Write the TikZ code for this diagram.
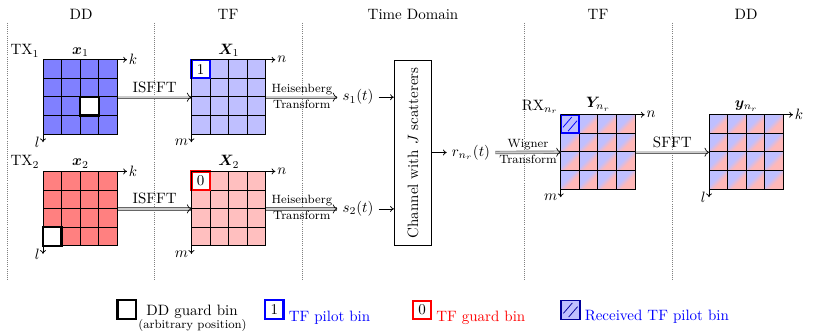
\documentclass[tikz,border=0pt]{standalone}
\usepackage{amsmath}
\usepackage{bm}
\usetikzlibrary{arrows.meta,positioning}

\pgfdeclareverticalshading{rxdiag}{100bp}{color(0bp)=(red!28); color(43bp)=(red!28);
  color(57bp)=(blue!25); color(100bp)=(blue!25)}
\def\cs{18.6}
\tikzset{
  bin/.style={draw=black, line width=0.6pt},
  binnode/.style={minimum size=12.4pt, inner sep=0pt, line width=1.5pt},
  ddguard/.style={binnode, draw=black, fill=white},
  tfpilot/.style={binnode, draw=blue, fill=white},
  tfguard/.style={binnode, draw=red, fill=white},
  rxpilot/.style={binnode, fill=blue!25,
    path picture={
      \draw[line width=0.5pt] ([xshift=1.5pt,yshift=4pt]path picture bounding box.south west)
        -- ([xshift=-5pt,yshift=-1.5pt]path picture bounding box.north east);
      \draw[line width=0.5pt] ([xshift=5pt,yshift=1.5pt]path picture bounding box.south west)
        -- ([xshift=-1.5pt,yshift=-4pt]path picture bounding box.north east);
    }},
  rxshade/.style={shading=rxdiag, shading angle=45},
  gridframe/.style={inner sep=0pt, minimum size=49.6pt},
  axis/.style={-{To[length=2.5pt,width=4pt]}, line width=0.5pt},
  xform/.style={draw=gray!80!black, double=gray!40, double distance=1.3pt,
    line width=0.45pt, -{To[length=3pt,width=6pt,black]}},
  sep/.style={gray, densely dotted, line width=0.4pt},
  small/.style={font=\footnotesize, inner sep=1.5pt},
}

\begin{document}
\begin{tikzpicture}[x=0.667pt, y=-0.667pt]
  \useasboundingbox (0,0) rectangle (817,333);
  % domain headers
  \node (hdd1) at (81,14) {DD};
  \node (htf1) at (228,14) {TF};
  \node (htd) at (413,14) {Time Domain};
  \node (htf2) at (598,14) {TF};
  \node (hdd2) at (746,14) {DD};
  \foreach \x in {7,154,302,524,672}
    \draw[sep] (\x,23) -- (\x,280);

  % grid frames
  \node[gridframe] (dd1) at (80.5,97.2) {};
  \node[gridframe] (dd2) at (80.5,208.9) {};
  \node[gridframe] (tf1) at (228.9,97.2) {};
  \node[gridframe] (tf2) at (228.9,208.9) {};
  \node[gridframe] (rx) at (598.2,152.2) {};
  \node[gridframe] (yy) at (746.5,152.2) {};

  % TX1, DD
  \begin{scope}[shift={(dd1.north west)}]
    \foreach \i in {0,...,3} \foreach \j in {0,...,3}
      \draw[bin, fill=blue!50] (\i*\cs,\j*\cs) rectangle ++(\cs,\cs);
    \node[ddguard] (dd1g) at (2.5*\cs,2.5*\cs) {};
  \end{scope}
  % TX2, DD
  \begin{scope}[shift={(dd2.north west)}]
    \foreach \i in {0,...,3} \foreach \j in {0,...,3}
      \draw[bin, fill=red!50] (\i*\cs,\j*\cs) rectangle ++(\cs,\cs);
    \node[ddguard] (dd2g) at (0.5*\cs,3.5*\cs) {};
  \end{scope}
  % TX1, TF
  \begin{scope}[shift={(tf1.north west)}]
    \foreach \i in {0,...,3} \foreach \j in {0,...,3}
      \draw[bin, fill=blue!25] (\i*\cs,\j*\cs) rectangle ++(\cs,\cs);
    \node[tfpilot] (tf1p) at (0.5*\cs,0.5*\cs) {1};
  \end{scope}
  % TX2, TF
  \begin{scope}[shift={(tf2.north west)}]
    \foreach \i in {0,...,3} \foreach \j in {0,...,3}
      \draw[bin, fill=red!25] (\i*\cs,\j*\cs) rectangle ++(\cs,\cs);
    \node[tfguard] (tf2g) at (0.5*\cs,0.5*\cs) {0};
  \end{scope}
  % RX, TF
  \begin{scope}[shift={(rx.north west)}]
    \foreach \i in {0,...,3} \foreach \j in {0,...,3}
      \shadedraw[bin, rxshade] (\i*\cs,\j*\cs) rectangle ++(\cs,\cs);
    \node[rxpilot, draw=blue] (rxp) at (0.5*\cs,0.5*\cs) {};
  \end{scope}
  % RX, DD
  \begin{scope}[shift={(yy.north west)}]
    \foreach \i in {0,...,3} \foreach \j in {0,...,3}
      \shadedraw[bin, rxshade] (\i*\cs,\j*\cs) rectangle ++(\cs,\cs);
  \end{scope}

  % axes
  \draw[axis] (dd1.north west) -- ([xshift=6pt]dd1.north east) node[right, inner sep=1pt] {$k$};
  \draw[axis] (dd1.north west) -- ([yshift=-5pt]dd1.south west) node[left, inner sep=2pt] {$l$};
  \draw[axis] (dd2.north west) -- ([xshift=6pt]dd2.north east) node[right, inner sep=1pt] {$k$};
  \draw[axis] (dd2.north west) -- ([yshift=-5pt]dd2.south west) node[left, inner sep=2pt] {$l$};
  \draw[axis] (tf1.north west) -- ([xshift=6pt]tf1.north east) node[right, inner sep=1pt] {$n$};
  \draw[axis] (tf1.north west) -- ([yshift=-5pt]tf1.south west) node[left, inner sep=2pt] {$m$};
  \draw[axis] (tf2.north west) -- ([xshift=6pt]tf2.north east) node[right, inner sep=1pt] {$n$};
  \draw[axis] (tf2.north west) -- ([yshift=-5pt]tf2.south west) node[left, inner sep=2pt] {$m$};
  \draw[axis] (rx.north west) -- ([xshift=6pt]rx.north east) node[right, inner sep=1pt] {$n$};
  \draw[axis] (rx.north west) -- ([yshift=-5pt]rx.south west) node[left, inner sep=2pt] {$m$};
  \draw[axis] (yy.north west) -- ([xshift=6pt]yy.north east) node[right, inner sep=1pt] {$k$};
  \draw[axis] (yy.north west) -- ([yshift=-5pt]yy.south west) node[left, inner sep=2pt] {$l$};

  % grid labels
  \node[above=1pt of dd1, inner sep=1pt] (ldd1) {$\bm{x}_1$};
  \node[above=1pt of dd2, inner sep=1pt] (ldd2) {$\bm{x}_2$};
  \node[above=1pt of tf1, inner sep=1pt] (ltf1) {$\bm{X}_1$};
  \node[above=1pt of tf2, inner sep=1pt] (ltf2) {$\bm{X}_2$};
  \node[above=1pt of rx, inner sep=1pt] (lrx) {$\bm{Y}_{n_r}$};
  \node[above=1pt of yy, inner sep=1pt] (lyy) {$\bm{y}_{n_r}$};
  \node (tx1) at (25,51) {TX$_1$};
  \node (tx2) at (25,162) {TX$_2$};
  \node (rxn) at (540,107) {RX$_{n_r}$};

  % signals and channel
  \node (s1) at (358,97.2) {$s_1(t)$};
  \node (s2) at (358,208.9) {$s_2(t)$};
  \node[draw, line width=0.6pt, minimum width=24.9pt, minimum height=122.9pt, inner sep=0pt]
    (chan) at (413,152.9) {\rotatebox{90}{Channel with $J$ scatterers}};
  \node (r) at (471,152.5) {$r_{n_r}(t)$};

  % transforms
  \draw[xform] (dd1.east) -- (tf1.west) node[midway, above, inner sep=3pt] {ISFFT};
  \draw[xform] (dd2.east) -- (tf2.west) node[midway, above, inner sep=3pt] {ISFFT};
  \draw[xform] (tf1.east) -- (s1.west)
    node[midway, above, small] {Heisenberg} node[midway, below, small] {Transform};
  \draw[xform] (tf2.east) -- (s2.west)
    node[midway, above, small] {Heisenberg} node[midway, below, small] {Transform};
  \draw[axis] (s1.east) -- (s1.east -| chan.west);
  \draw[axis] (s2.east) -- (s2.east -| chan.west);
  \draw[axis] (chan.east |- r.west) -- (r.west);
  \draw[xform] (r.east) -- (rx.west)
    node[midway, above, small] {Wigner} node[midway, below, small] {Transform};
  \draw[xform] (rx.east) -- (yy.west) node[midway, above, inner sep=3pt] {SFFT};

  % legend
  \node[ddguard] (lgdd) at (126.7,309.5) {};
  \node (lgddt) at (192,311.5) {DD guard bin};
  \node[font=\footnotesize, inner sep=1pt] (lgdda) at (192.5,326) {(arbitrary position)};
  \node[tfpilot] (lgtfp) at (274.3,309.5) {1};
  \node[anchor=west, text=blue, inner sep=1pt] (lgtfpt) at (287,317.5) {TF pilot bin};
  \node[tfguard] (lgtfg) at (422,310) {0};
  \node[anchor=west, text=red, inner sep=1pt] (lgtfgt) at (434.5,317.5) {TF guard bin};
  \node[rxpilot, draw=blue!60!black, line width=1pt] (lgrx) at (570.5,310) {};
  \node[anchor=west, text=blue, inner sep=1pt] (lgrxt) at (583,317) {Received TF pilot bin};
\end{tikzpicture}
\end{document}
